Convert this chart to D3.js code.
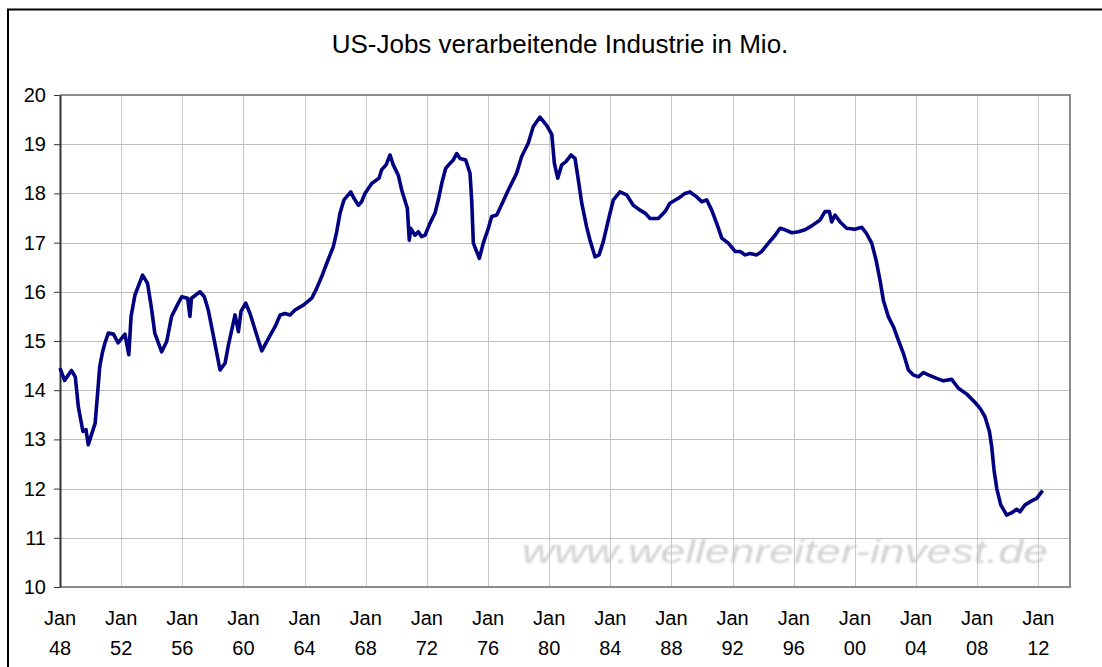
<!DOCTYPE html>
<html>
<head>
<meta charset="utf-8">
<script src="https://cdn.jsdelivr.net/npm/d3@7"></script>
<style>
  body { margin: 0; background: #fff; }
  text { font-family: "Liberation Sans", Arial, sans-serif; fill: #000; }
</style>
</head>
<body>
<script>
// values (decimal year, million jobs)
var years = [
  1948.0, 1948.3, 1948.75, 1949.0, 1949.2, 1949.5, 1949.7, 1949.85, 1950.3, 1950.46,
  1950.6, 1950.77, 1950.94, 1951.16, 1951.5, 1951.8, 1952.25, 1952.5, 1952.65, 1952.9,
  1953.4, 1953.73, 1954.0, 1954.2, 1954.65, 1954.98, 1955.3, 1955.74, 1955.96, 1956.35,
  1956.5, 1956.6, 1957.16, 1957.44, 1957.7, 1958.0, 1958.47, 1958.8, 1959.0, 1959.45,
  1959.67, 1959.84, 1960.15, 1960.43, 1960.7, 1960.97, 1961.2, 1961.63, 1962.07, 1962.4,
  1962.72, 1963.05, 1963.37, 1963.92, 1964.47, 1964.79, 1965.12, 1965.45, 1965.88, 1966.1,
  1966.32, 1966.58, 1967.02, 1967.23, 1967.52, 1967.73, 1967.95, 1968.39, 1968.87, 1969.04,
  1969.33, 1969.59, 1969.8, 1970.13, 1970.35, 1970.72, 1970.85, 1970.94, 1971.22, 1971.44,
  1971.66, 1971.88, 1972.2, 1972.53, 1972.75, 1972.97, 1973.23, 1973.51, 1973.73, 1973.95,
  1974.17, 1974.54, 1974.82, 1974.93, 1975.04, 1975.43, 1975.69, 1976.02, 1976.24, 1976.57,
  1976.78, 1977.33, 1977.87, 1978.2, 1978.63, 1978.96, 1979.4, 1979.84, 1980.17, 1980.34,
  1980.56, 1980.82, 1981.08, 1981.43, 1981.69, 1981.91, 1982.13, 1982.45, 1982.67, 1983.0,
  1983.26, 1983.54, 1983.87, 1984.2, 1984.63, 1985.07, 1985.5, 1985.94, 1986.27, 1986.6,
  1987.14, 1987.58, 1987.9, 1988.45, 1988.88, 1989.21, 1989.65, 1989.98, 1990.3, 1990.63,
  1990.96, 1991.29, 1991.72, 1992.16, 1992.49, 1992.82, 1993.14, 1993.58, 1993.9, 1994.34,
  1994.78, 1995.1, 1995.43, 1995.87, 1996.3, 1996.74, 1997.17, 1997.72, 1998.04, 1998.33,
  1998.48, 1998.7, 1999.03, 1999.46, 2000.0, 2000.45, 2000.73, 2001.1, 2001.38, 2001.64,
  2001.86, 2002.19, 2002.52, 2002.84, 2003.17, 2003.5, 2003.82, 2004.15, 2004.48, 2004.8,
  2005.35, 2005.78, 2006.33, 2006.77, 2007.32, 2007.86, 2008.19, 2008.51, 2008.8, 2008.95,
  2009.1, 2009.28, 2009.54, 2009.93, 2010.26, 2010.58, 2010.8, 2011.13, 2011.56, 2011.89,
  2012.28
];
var jobs = [
  14.45, 14.2, 14.4, 14.27, 13.66, 13.16, 13.2, 12.89, 13.33, 13.94,
  14.48, 14.76, 14.96, 15.16, 15.14, 14.96, 15.14, 14.72, 15.5, 15.93,
  16.34, 16.17, 15.63, 15.16, 14.78, 14.99, 15.5, 15.77, 15.9, 15.87,
  15.5, 15.87, 16.0, 15.9, 15.63, 15.16, 14.41, 14.55, 14.89, 15.53,
  15.19, 15.6, 15.77, 15.56, 15.29, 15.02, 14.8, 15.05, 15.29, 15.53,
  15.56, 15.53, 15.63, 15.73, 15.87, 16.07, 16.31, 16.58, 16.92, 17.22,
  17.6, 17.87, 18.03, 17.9, 17.76, 17.83, 18.0, 18.2, 18.31, 18.48,
  18.58, 18.78, 18.58, 18.37, 18.07, 17.7, 17.05, 17.29, 17.15, 17.22,
  17.12, 17.15, 17.39, 17.6, 17.87, 18.2, 18.51, 18.61, 18.68, 18.81,
  18.71, 18.68, 18.41, 17.87, 16.99, 16.68, 16.99, 17.29, 17.53, 17.56,
  17.7, 18.07, 18.41, 18.75, 19.02, 19.36, 19.55, 19.38, 19.2, 18.61,
  18.31, 18.58, 18.64, 18.78, 18.71, 18.27, 17.8, 17.32, 17.05, 16.71,
  16.75, 17.02, 17.46, 17.87, 18.03, 17.97, 17.76, 17.66, 17.6, 17.49,
  17.49, 17.63, 17.8, 17.9, 18.0, 18.03, 17.93, 17.83, 17.87, 17.66,
  17.39, 17.09, 16.99, 16.82, 16.82, 16.75, 16.78, 16.75, 16.82, 16.99,
  17.15, 17.29, 17.26, 17.2, 17.22, 17.26, 17.34, 17.46, 17.63, 17.63,
  17.42, 17.56, 17.42, 17.29, 17.27, 17.31, 17.2, 16.99, 16.65, 16.24,
  15.83, 15.49, 15.29, 15.02, 14.75, 14.41, 14.31, 14.27, 14.36, 14.31,
  14.24, 14.19, 14.22, 14.04, 13.92, 13.75, 13.63, 13.46, 13.16, 12.85,
  12.38, 12.0, 11.67, 11.46, 11.51, 11.58, 11.53, 11.67, 11.75, 11.8,
  11.96
];
var xTicks = [1948, 1952, 1956, 1960, 1964, 1968, 1972, 1976, 1980, 1984, 1988, 1992, 1996, 2000, 2004, 2008, 2012];
var yTicks = [10, 11, 12, 13, 14, 15, 16, 17, 18, 19, 20];

(function() {
var width = 1102,
	height = 667,
	pl = 60, pr = 1070, pt = 95, pb = 587;

var x = d3.scaleLinear().domain([1948, 2014.07]).range([pl, pr]);
var y = d3.scaleLinear().domain([10, 20]).range([pb, pt]);

var svg = d3.select("body").append("svg")
	.attr("width", width)
	.attr("height", height);

var defs = svg.append("defs");
defs.append("filter").attr("id", "soft")
	.append("feGaussianBlur").attr("stdDeviation", 1);

// outer chart frame
svg.append("rect")
	.attr("x", 8).attr("y", 9.5)
	.attr("width", 1200).attr("height", 1000)
	.attr("fill", "none").attr("stroke", "#000").attr("stroke-width", 2);

svg.append("text")
	.attr("x", 560).attr("y", 53)
	.attr("text-anchor", "middle")
	.style("font-size", "26px")
	.text("US-Jobs verarbeitende Industrie in Mio.");

// watermark
svg.append("text")
	.attr("x", 522).attr("y", 563)
	.attr("textLength", 526).attr("lengthAdjust", "spacingAndGlyphs")
	.attr("filter", "url(#soft)")
	.style("font-size", "34px").style("font-style", "italic")
	.style("fill", "#d2d2d2")
	.text("www.wellenreiter-invest.de");

// grid
svg.append("g")
	.selectAll("line").data(xTicks.slice(1)).enter().append("line")
	.attr("x1", function(d) { return Math.round(x(d)) + 0.5; })
	.attr("x2", function(d) { return Math.round(x(d)) + 0.5; })
	.attr("y1", pt).attr("y2", pb)
	.attr("stroke", "#c8c8c8");
svg.append("g")
	.selectAll("line").data(yTicks.slice(1, -1)).enter().append("line")
	.attr("x1", pl).attr("x2", pr)
	.attr("y1", function(d) { return Math.round(y(d)) + 0.5; })
	.attr("y2", function(d) { return Math.round(y(d)) + 0.5; })
	.attr("stroke", "#c0c0c0");

// plot frame
svg.append("path")
	.attr("d", "M" + pl + "," + pt + "H" + pr + "V" + pb + "H" + pl)
	.attr("fill", "none").attr("stroke", "#8c8c8c").attr("stroke-width", 2);

// y axis
var yAxis = svg.append("g")
	.attr("transform", "translate(" + pl + ",0)")
	.call(d3.axisLeft(y).tickValues(yTicks).tickSize(6).tickSizeOuter(0).tickPadding(8).tickFormat(d3.format("d")));
yAxis.select(".domain").attr("stroke", "#333").attr("stroke-width", 2);
yAxis.selectAll(".tick line").attr("stroke", "#333");
yAxis.selectAll("text")
	.style("font-size", "20px")
	.style("font-family", "'Liberation Sans', Arial, sans-serif")
	.attr("fill", "#000");

// x labels
var xl = svg.append("g").selectAll("text").data(xTicks).enter().append("text")
	.attr("text-anchor", "middle")
	.style("font-size", "20px");
xl.append("tspan")
	.attr("x", function(d) { return x(d); }).attr("y", 625)
	.text("Jan");
xl.append("tspan")
	.attr("x", function(d) { return x(d); }).attr("y", 655)
	.text(function(d) { return String(d % 100).padStart(2, "0"); });

// series
var line = d3.line()
	.x(function(d, i) { return x(years[i]); })
	.y(function(d) { return y(d); });

svg.append("path")
	.datum(jobs)
	.attr("d", line)
	.attr("fill", "none")
	.attr("stroke", "#000080")
	.attr("stroke-width", 3.6)
	.attr("stroke-linejoin", "round");
})();
</script>
</body>
</html>
